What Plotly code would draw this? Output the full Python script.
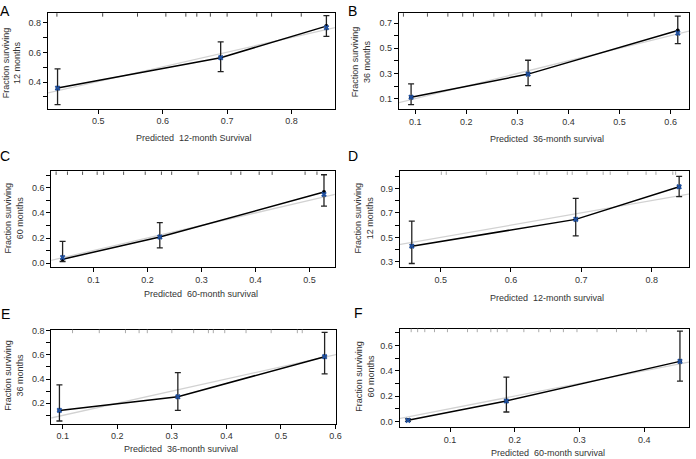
import plotly.graph_objects as go

W, H = 696, 459

# ---------------- data ----------------
labels = ["A", "B", "C", "D", "E", "F"]
x_titles = ["Predicted\u00a0 12-month Survival", "Predicted\u00a0 36-month survival",
            "Predicted\u00a0 60-month survival", "Predicted\u00a0 12-month survival",
            "Predicted\u00a0 36-month survival", "Predicted\u00a0 60-month survival"]
y_titles = ["Fraction surviving<br>12 months", "Fraction surviving<br>36 months",
            "Fraction surviving<br>60 months", "Fraction surviving<br>12 months",
            "Fraction surviving<br>36 months", "Fraction surviving<br>60 months"]

pred_A = [0.437, 0.690, 0.854]
obs_A = [0.360, 0.565, 0.778]
cor_A = [0.360, 0.565, 0.768]
lo_A = [0.249, 0.471, 0.709]
hi_A = [0.489, 0.671, 0.849]

pred_B = [0.092, 0.321, 0.614]
obs_B = [0.111, 0.295, 0.642]
cor_B = [0.111, 0.295, 0.621]
lo_B = [0.053, 0.203, 0.537]
hi_B = [0.218, 0.405, 0.755]

pred_C = [0.043, 0.223, 0.527]
obs_C = [0.031, 0.208, 0.566]
cor_C = [0.045, 0.208, 0.548]
lo_C = [0.013, 0.122, 0.454]
hi_C = [0.174, 0.322, 0.704]

pred_D = [0.459, 0.692, 0.839]
obs_D = [0.428, 0.647, 0.913]
cor_D = [0.428, 0.647, 0.913]
lo_D = [0.287, 0.513, 0.833]
hi_D = [0.633, 0.819, 0.998]

pred_E = [0.094, 0.311, 0.580]
obs_E = [0.141, 0.254, 0.584]
cor_E = [0.141, 0.254, 0.584]
lo_E = [0.054, 0.141, 0.443]
hi_E = [0.352, 0.452, 0.784]

pred_F = [0.035, 0.187, 0.455]
obs_F = [0.008, 0.161, 0.474]
cor_F = [0.008, 0.161, 0.474]
lo_F = [0.000, 0.074, 0.318]
hi_F = [0.020, 0.350, 0.713]

# reference (grey) lines
ref_x_A = [0.0, 1.0]
ref_y_A = [-0.090, 0.899]
ref_x = [0.0, 1.0]
ref_y = [0.0, 1.0]

# rug of predicted values (top of each panel)
rug_A = [0.436, 0.507, 0.561, 0.605, 0.636, 0.653, 0.674, 0.700, 0.746, 0.769, 0.815]
rug_B = [0.077, 0.124, 0.164, 0.193, 0.214, 0.254, 0.283, 0.335, 0.348, 0.406, 0.458, 0.516, 0.568]
rug_C = [0.031, 0.052, 0.080, 0.107, 0.119, 0.156, 0.196, 0.226, 0.245, 0.294, 0.355, 0.373, 0.407, 0.431, 0.492, 0.514]
rug_D = [0.501, 0.508, 0.565, 0.609, 0.633, 0.640, 0.651, 0.680, 0.687, 0.708, 0.731, 0.741, 0.766, 0.792, 0.806, 0.830, 0.834]
rug_E = [0.118, 0.167, 0.215, 0.240, 0.255, 0.300, 0.340, 0.367, 0.376, 0.397, 0.436, 0.482, 0.530, 0.539]
rug_F = [0.040, 0.050, 0.061, 0.076, 0.096, 0.127, 0.142, 0.163, 0.173, 0.188, 0.214, 0.237, 0.255, 0.275, 0.296, 0.327, 0.357, 0.388, 0.403]

x_ticks = [[0.5, 0.6, 0.7, 0.8], [0.1, 0.2, 0.3, 0.4, 0.5, 0.6], [0.1, 0.2, 0.3, 0.4, 0.5],
           [0.5, 0.6, 0.7, 0.8], [0.1, 0.2, 0.3, 0.4, 0.5, 0.6], [0.1, 0.2, 0.3, 0.4]]
y_ticks = [[0.4, 0.6, 0.8], [0.1, 0.3, 0.5, 0.7], [0.0, 0.2, 0.4, 0.6],
           [0.3, 0.5, 0.7, 0.9], [0.2, 0.4, 0.6, 0.8], [0.0, 0.2, 0.4, 0.6]]

# ---------------- layout geometry ----------------
x_ranges = [[0.422, 0.867], [0.068, 0.636], [0.022, 0.547], [0.442, 0.853], [0.079, 0.601], [0.022, 0.469]]
y_ranges = [[0.222, 0.865], [0.019, 0.779], [-0.034, 0.730], [0.255, 1.038], [0.032, 0.806], [-0.045, 0.732]]
# pixel boxes: (left, right, top, bottom)
boxes = [(48.3, 337.7, 9.3, 105.7), (402.3, 695.0, 9.3, 106.0),
         (51.7, 337.7, 169.3, 266.3), (403.3, 695.0, 169.3, 266.3),
         (51.7, 339.0, 329.3, 424.3), (403.0, 695.0, 328.3, 427.7)]
label_pos = [(5, 7), (356, 7), (5, 154), (356, 154), (6, 313), (362, 312)]
xtitle_pos = [(196, 135), (552, 136), (203, 293), (552, 297), (183, 450), (553, 454)]
ytitle_pos = [(12, 59), (365, 58), (14, 216), (367, 216), (14, 375), (368, 376)]

panels = [
    (pred_A, obs_A, cor_A, lo_A, hi_A, ref_x_A, ref_y_A, rug_A, "#444"),
    (pred_B, obs_B, cor_B, lo_B, hi_B, ref_x, ref_y, rug_B, "#555"),
    (pred_C, obs_C, cor_C, lo_C, hi_C, ref_x, ref_y, rug_C, "#555"),
    (pred_D, obs_D, cor_D, lo_D, hi_D, ref_x, ref_y, rug_D, "#aaa"),
    (pred_E, obs_E, cor_E, lo_E, hi_E, ref_x, ref_y, rug_E, "#aaa"),
    (pred_F, obs_F, cor_F, lo_F, hi_F, ref_x, ref_y, rug_F, "#aaa"),
]

FONT = "Liberation Sans, Arial, sans-serif"
TXT = "#333333"
BLUE = "#1f4f9e"
RUG_PX = 3.5

fig = go.Figure()
layout = dict(width=W, height=H, margin=dict(l=0, r=0, t=0, b=0),
              paper_bgcolor="white", plot_bgcolor="white", showlegend=False,
              font=dict(family=FONT, size=9, color=TXT))
annotations = []
shapes = []

for i, (pred, obs, cor, lo, hi, rx, ry, rug, rugcol) in enumerate(panels):
    n = i + 1
    xa = "x" if n == 1 else f"x{n}"
    ya = "y" if n == 1 else f"y{n}"
    left, right, top, bottom = boxes[i]
    yr = y_ranges[i]

    # reference grey line
    fig.add_trace(go.Scatter(x=rx, y=ry, mode="lines", xaxis=xa, yaxis=ya,
                             line=dict(color="#d2d2d2", width=1.3), hoverinfo="skip"))
    # rug at top (inside the frame)
    frac = 1 - RUG_PX / (bottom - top)
    for v in rug:
        shapes.append(dict(type="line", xref=xa, yref=f"{ya} domain",
                           x0=v, x1=v, y0=frac, y1=1,
                           line=dict(color=rugcol, width=1)))
    # observed with CI
    fig.add_trace(go.Scatter(
        x=pred, y=obs, mode="lines+markers", xaxis=xa, yaxis=ya,
        line=dict(color="black", width=1.5),
        marker=dict(color="black", size=4),
        error_y=dict(type="data", symmetric=False,
                     array=[h - o for h, o in zip(hi, obs)],
                     arrayminus=[o - l for o, l in zip(obs, lo)],
                     color="#222", thickness=1.3, width=3),
    ))
    # bias-corrected
    fig.add_trace(go.Scatter(x=pred, y=cor, mode="markers", xaxis=xa, yaxis=ya,
                             marker=dict(symbol="x", color=BLUE, size=5,
                                         line=dict(width=0))))

    axis_common = dict(showline=True, linecolor="black", linewidth=1, mirror=True,
                       ticks="outside", ticklen=4, tickcolor="black", tickwidth=1,
                       showgrid=False, zeroline=False,
                       tickfont=dict(family=FONT, size=9, color=TXT))
    layout["xaxis" if n == 1 else f"xaxis{n}"] = dict(
        axis_common, anchor=ya, range=x_ranges[i],
        domain=[left / W, right / W],
        tickvals=x_ticks[i], tickformat=".1f")
    layout["yaxis" if n == 1 else f"yaxis{n}"] = dict(
        axis_common, anchor=xa, range=yr,
        domain=[1 - bottom / H, 1 - top / H],
        tickvals=y_ticks[i], tickformat=".1f",
        minor=dict(ticks="outside", ticklen=4, tickcolor="black", dtick=0.1, tick0=0))

    lx, ly = label_pos[i]
    annotations.append(dict(text=labels[i], x=lx / W, y=1 - ly / H, xref="paper", yref="paper",
                            showarrow=False, font=dict(family=FONT, size=14, color="black"),
                            xanchor="center", yanchor="middle"))
    tx, ty = xtitle_pos[i]
    annotations.append(dict(text=x_titles[i], x=tx / W, y=1 - ty / H, xref="paper", yref="paper",
                            showarrow=False, font=dict(family=FONT, size=9, color=TXT),
                            xanchor="center", yanchor="middle"))
    sx, sy = ytitle_pos[i]
    annotations.append(dict(text=y_titles[i], x=sx / W, y=1 - sy / H, xref="paper", yref="paper",
                            showarrow=False, textangle=-90,
                            font=dict(family=FONT, size=9, color=TXT),
                            xanchor="center", yanchor="middle"))

layout["annotations"] = annotations
layout["shapes"] = shapes
fig.update_layout(**layout)
fig.write_html("out.html", config={"displayModeBar": False},
               post_script="document.body.style.margin='0';document.body.style.overflow='hidden';")
